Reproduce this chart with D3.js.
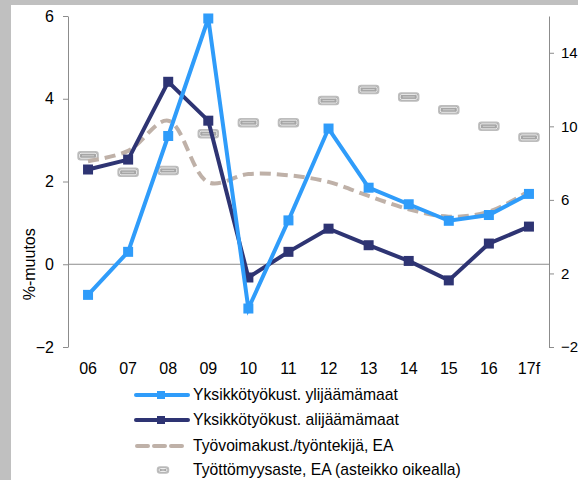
<!DOCTYPE html>
<html><head><meta charset="utf-8">
<script src="https://cdn.jsdelivr.net/npm/d3@7"></script>
<style>body{margin:0;background:#fff}svg{display:block;font-family:Arial,"Liberation Sans",sans-serif}</style>
</head><body><svg id="c" width="578" height="480"></svg>
<script>
const categories = ["06","07","08","09","10","11","12","13","14","15","16","17f"];
const surplus = [-0.74,0.3,3.1,5.94,-1.07,1.06,3.28,1.85,1.45,1.05,1.19,1.7];
const deficit = [2.29,2.53,4.41,3.47,-0.32,0.3,0.86,0.46,0.08,-0.39,0.5,0.91];
const laborCost = [2.49,2.74,3.47,1.98,2.18,2.15,1.99,1.65,1.33,1.15,1.27,1.77];
const unemployment = [8.4,7.5,7.6,9.6,10.2,10.2,11.4,12.0,11.6,10.9,10.0,9.4];
const leftTicks = [-2,0,2,4,6];
const rightTicks = [-2,2,6,10,14];
const seriesNames = ["Yksikkötyökust. ylijäämämaat","Yksikkötyökust. alijäämämaat","Työvoimakust./työntekijä, EA","Työttömyysaste, EA (asteikko oikealla)"];

const FS = 15;
const svg = d3.select("#c");
svg.append("rect").attr("width",578).attr("height",480).attr("fill","#c0c0c0");
svg.append("rect").attr("x",11).attr("y",5).attr("width",567).attr("height",475).attr("fill","#fff");

const L=68, R=549;
const x = d3.scalePoint().domain(categories).range([L,R]).padding(0.5);
const y = d3.scaleLinear().domain([-2,6]).range([347,16]);
const y2 = d3.scaleLinear().domain([-2,16]).range([347,16]);

const la = svg.append("g").attr("transform",`translate(${L},0)`)
  .call(d3.axisLeft(y).tickValues(leftTicks).tickSize(5).tickSizeOuter(0).tickPadding(9).tickFormat(d3.format("d")));
la.select(".domain").attr("stroke","#8c8c8c");
la.selectAll(".tick line").attr("stroke","#8c8c8c");
la.selectAll("text").attr("font-size",FS+1).attr("fill","#000").style("font-family","Arial, Liberation Sans, sans-serif");

const ra = svg.append("g").attr("transform",`translate(${R},0)`)
  .call(d3.axisRight(y2).tickValues(rightTicks).tickSize(5).tickSizeOuter(0).tickPadding(7).tickFormat(d3.format("d")));
ra.select(".domain").attr("stroke","#8c8c8c");
ra.selectAll(".tick line").attr("stroke","#8c8c8c");
ra.selectAll("text").attr("font-size",FS).attr("fill","#000").style("font-family","Arial, Liberation Sans, sans-serif");

svg.append("line").attr("x1",L).attr("x2",R).attr("y1",y(0)).attr("y2",y(0)).attr("stroke","#8c8c8c").attr("stroke-width",1);

svg.append("g").selectAll("text").data(categories).join("text")
  .attr("x",d=>x(d)).attr("y",374).attr("text-anchor","middle").attr("font-size",FS+1).text(d=>d);

svg.append("text").attr("transform",`translate(35,${y(0)}) rotate(-90)`).attr("text-anchor","middle")
  .attr("font-size",FS+1).text("%-muutos");

function umarker(g, cx, cy, w, h){
  g.append("rect").attr("x",cx-w/2).attr("y",cy-h/2).attr("width",w).attr("height",h).attr("rx",2.5)
    .attr("fill","#a6a6a6").attr("stroke","#bdbdbd").attr("stroke-width",1.5);
  g.append("rect").attr("x",cx-w/2+1.5).attr("y",cy-h/2+1.5).attr("width",w-3).attr("height",h-3).attr("rx",1.5)
    .attr("fill","#a6a6a6").attr("stroke","#fff").attr("stroke-width",0.8);
  g.append("line").attr("x1",cx-w/2+4).attr("x2",cx+w/2-4).attr("y1",cy).attr("y2",cy).attr("stroke","#d9d9d9").attr("stroke-width",0.8);
}
const ug = svg.append("g");
unemployment.forEach((v,i)=>umarker(ug, x(categories[i]), y2(v), 20, 8));

const lineS = d3.line().x((d,i)=>x(categories[i])).y(d=>y(d));
svg.append("path").attr("d", lineS.curve(d3.curveCatmullRom.alpha(0.5))(laborCost))
  .attr("fill","none").attr("stroke","#bfb1a8").attr("stroke-width",4).attr("stroke-dasharray","11,6");

const lineP = d3.line().x((d,i)=>x(categories[i])).y(d=>y(d));
function series(vals,color){
  svg.append("path").attr("d",lineP(vals)).attr("fill","none").attr("stroke",color).attr("stroke-width",4).attr("stroke-linejoin","miter");
  svg.append("g").selectAll("rect").data(vals).join("rect")
    .attr("x",(d,i)=>x(categories[i])-5).attr("y",d=>y(d)-5).attr("width",10).attr("height",10).attr("fill",color);
}
series(deficit,"#2e3473");
series(surplus,"#2f9cfa");

const lg = svg.append("g");
const rows=[395,420,446,470];
const colors=["#2f9cfa","#2e3473"];
[0,1].forEach(i=>{
  lg.append("line").attr("x1",136).attr("x2",188).attr("y1",rows[i]).attr("y2",rows[i]).attr("stroke",colors[i]).attr("stroke-width",4).attr("stroke-linecap","round");
  lg.append("rect").attr("x",157).attr("y",rows[i]-4).attr("width",8).attr("height",8).attr("fill",colors[i]);
});
lg.append("line").attr("x1",137).attr("x2",188).attr("y1",rows[2]).attr("y2",rows[2]).attr("stroke","#bfb1a8").attr("stroke-width",4).attr("stroke-dasharray","11,6").attr("stroke-linecap","round");
umarker(lg,163,rows[3],11,6);
seriesNames.forEach((n,i)=>{
  lg.append("text").attr("x",193).attr("y",rows[i]+5).attr("font-size",15.7).text(n);
});
</script></body></html>
